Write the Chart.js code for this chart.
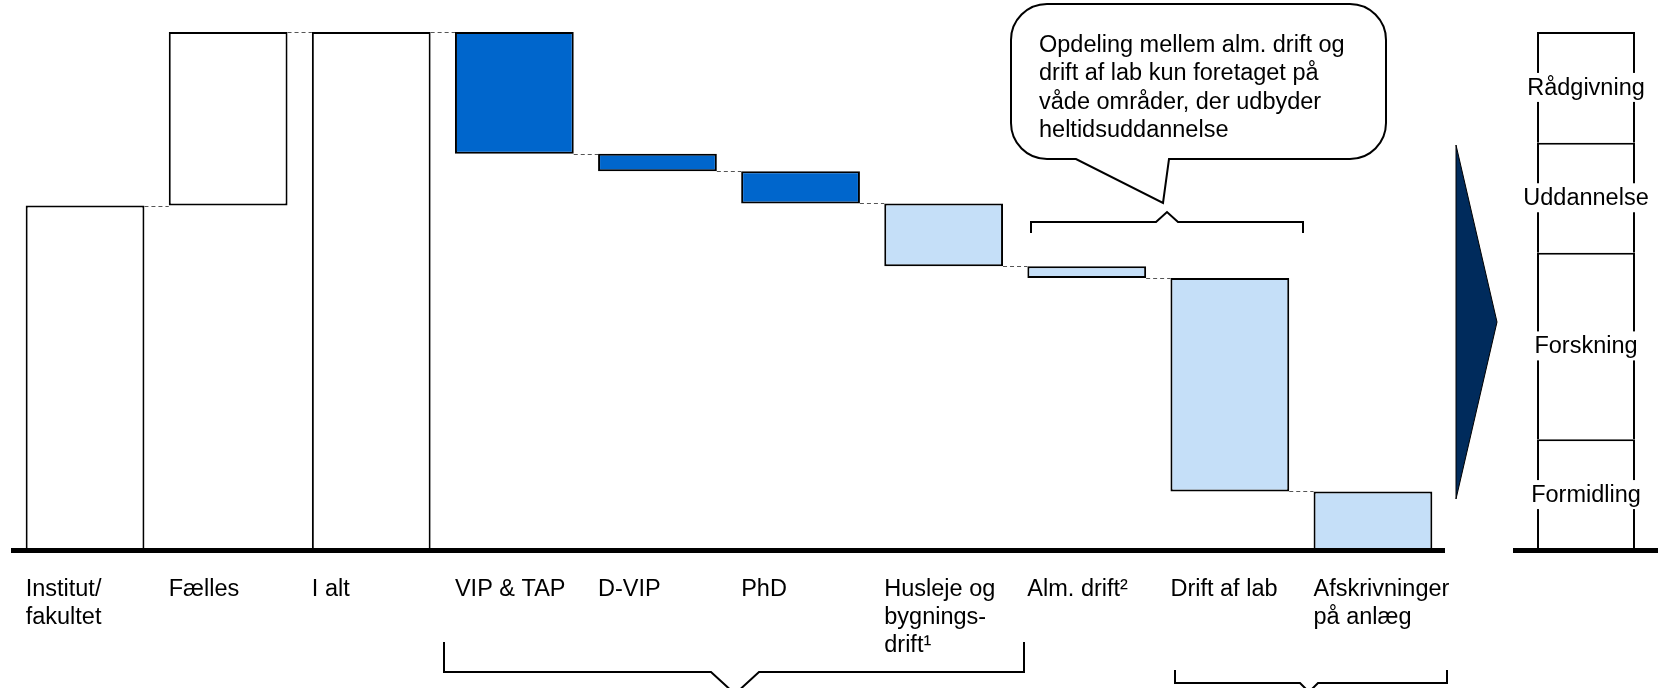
<!DOCTYPE html>
<html lang="da">
<head>
<meta charset="utf-8">
<title>Omkostningsfordeling</title>
<script src="https://cdn.jsdelivr.net/npm/chart.js@4.4.1/dist/chart.umd.min.js"></script>
<style>
  html, body { margin: 0; padding: 0; background: #fff; }
  #wrap { position: relative; width: 1659px; height: 688px; overflow: hidden; }
  #main { position: absolute; left: 0; top: 0; }
  #split { position: absolute; left: 1500px; top: 0; }
</style>
</head>
<body>
<div id="wrap">
  <canvas id="main" width="1500" height="688"></canvas>
  <canvas id="split" width="159" height="688"></canvas>
</div>
<script>
// Data (share of total, I alt = 100)
const categories = [
    ['Institut/', 'fakultet'], 'Fælles', 'I alt', 'VIP & TAP', 'D-VIP', 'PhD',
    ['Husleje og', 'bygnings-', 'drift¹'], 'Alm. drift²', 'Drift af lab', ['Afskrivninger', 'på anlæg']
];
const steps = [66.5, 33.5, 100, -23.5, -3.4, -6.2, -12.1, -2.3, -41.2, -11.3];
const isTotal = [false, false, true, false, false, false, false, false, false, false];
const groups = ['sum', 'sum', 'sum', 'staff', 'staff', 'staff', 'other', 'other', 'other', 'other'];

const splitLabels = ['Formidling', 'Forskning', 'Uddannelse', 'Rådgivning'];
const splitValues = [21.4, 36.0, 21.2, 21.4];

const noteLines = [
    'Opdeling mellem alm. drift og',
    'drift af lab kun foretaget på',
    'våde områder, der udbyder',
    'heltidsuddannelse'
];

const groupColors = { sum: '#ffffff', staff: '#0066cc', other: '#c5dff8' };
const FONT = '"Liberation Sans", Arial, sans-serif';
const FONT_SIZE = 23.5;

Chart.defaults.font.family = FONT;
Chart.defaults.font.size = FONT_SIZE;
Chart.defaults.color = '#000';

// floating ranges for the waterfall
let running = 0;
const ranges = [];
const levels = [];
steps.forEach((v, i) => {
    if (isTotal[i]) {
        ranges.push([0, v]);
        running = v;
    } else {
        ranges.push([running, running + v]);
        running += v;
    }
    levels.push(running);
});

// dashed links between neighbouring bars
const connectors = {
    id: 'connectors',
    afterDatasetsDraw(chart) {
        const { ctx, scales: { y } } = chart;
        const bars = chart.getDatasetMeta(0).data;
        ctx.save();
        ctx.strokeStyle = '#555';
        ctx.lineWidth = 1;
        ctx.setLineDash([4, 3]);
        for (let i = 0; i < bars.length - 1; i++) {
            const py = Math.round(y.getPixelForValue(levels[i])) + 0.5;
            ctx.beginPath();
            ctx.moveTo(bars[i].x + bars[i].width / 2, py);
            ctx.lineTo(bars[i + 1].x - bars[i + 1].width / 2, py);
            ctx.stroke();
        }
        ctx.restore();
    }
};

function brace(ctx, x1, x2, y, tickTo, mid, half, tipY) {
    ctx.beginPath();
    ctx.moveTo(x1, tickTo);
    ctx.lineTo(x1, y);
    ctx.lineTo(mid - half, y);
    ctx.lineTo(mid, tipY);
    ctx.lineTo(mid + half, y);
    ctx.lineTo(x2, y);
    ctx.lineTo(x2, tickTo);
    ctx.stroke();
}

// callout, braces and arrow
const notes = {
    id: 'notes',
    afterDraw(chart) {
        const ctx = chart.ctx;
        ctx.save();
        ctx.lineWidth = 2;
        ctx.strokeStyle = '#000';

        // speech bubble
        const l = 1011, t = 4, r = 1386, b = 159, rad = 36;
        ctx.beginPath();
        ctx.moveTo(l + rad, t);
        ctx.lineTo(r - rad, t);
        ctx.arcTo(r, t, r, t + rad, rad);
        ctx.lineTo(r, b - rad);
        ctx.arcTo(r, b, r - rad, b, rad);
        ctx.lineTo(1169, b);
        ctx.lineTo(1163, 203);
        ctx.lineTo(1076, b);
        ctx.lineTo(l + rad, b);
        ctx.arcTo(l, b, l, b - rad, rad);
        ctx.lineTo(l, t + rad);
        ctx.arcTo(l, t, l + rad, t, rad);
        ctx.closePath();
        ctx.fillStyle = '#fff';
        ctx.fill();
        ctx.stroke();

        ctx.fillStyle = '#000';
        ctx.font = FONT_SIZE + 'px ' + FONT;
        ctx.textAlign = 'left';
        ctx.textBaseline = 'alphabetic';
        noteLines.forEach((line, i) => ctx.fillText(line, 1039, 52 + i * 28.3));

        // braces
        brace(ctx, 1031, 1303, 222, 233, 1167, 11, 212);
        brace(ctx, 444, 1024, 672, 642, 735, 24, 694);
        brace(ctx, 1175, 1447, 683, 670, 1309, 9, 692);

        // arrow towards the split column
        ctx.lineWidth = 1;
        ctx.beginPath();
        ctx.moveTo(1456, 145);
        ctx.lineTo(1497, 322);
        ctx.lineTo(1456, 499);
        ctx.closePath();
        ctx.fillStyle = '#002b5c';
        ctx.fill();
        ctx.stroke();
        ctx.restore();
    }
};

new Chart(document.getElementById('main'), {
    type: 'bar',
    data: {
        labels: categories,
        datasets: [{
            data: ranges,
            backgroundColor: groups.map(g => groupColors[g]),
            borderColor: '#000',
            borderWidth: 2,
            borderSkipped: false,
            categoryPercentage: 1,
            barPercentage: 0.83
        }]
    },
    options: {
        responsive: false,
        animation: false,
        layout: { padding: { left: 13.5, right: 55.5, top: 32, bottom: 0 } },
        plugins: { legend: { display: false }, tooltip: { enabled: false } },
        scales: {
            x: {
                offset: true,
                grid: { display: false, drawTicks: false },
                border: { display: true, color: '#000', width: 5, z: 1 },
                ticks: {
                    align: 'start',
                    labelOffset: -59.4,
                    padding: 25,
                    maxRotation: 0,
                    minRotation: 0,
                    autoSkip: false,
                    color: '#000'
                },
                afterFit: s => { s.height = 138; s.paddingLeft = 0; s.paddingRight = 0; }
            },
            y: { display: false, min: 0, max: 100 }
        }
    },
    plugins: [connectors, notes]
});

// labels sitting on the split column
const splitNames = {
    id: 'splitNames',
    afterDatasetsDraw(chart) {
        const ctx = chart.ctx;
        ctx.save();
        ctx.font = FONT_SIZE + 'px ' + FONT;
        ctx.textAlign = 'center';
        ctx.textBaseline = 'middle';
        chart.data.datasets.forEach((ds, i) => {
            const bar = chart.getDatasetMeta(i).data[0];
            const cy = (bar.y + bar.base) / 2;
            const w = ctx.measureText(ds.label).width + 2;
            ctx.fillStyle = '#fff';
            ctx.fillRect(bar.x - w / 2, cy - 14.5, w, 29);
            ctx.fillStyle = '#000';
            ctx.fillText(ds.label, bar.x, cy + 1);
        });
        ctx.restore();
    }
};

new Chart(document.getElementById('split'), {
    type: 'bar',
    data: {
        labels: [''],
        datasets: splitLabels.map((name, i) => ({
            label: name,
            data: [splitValues[i]],
            backgroundColor: '#fff',
            borderColor: '#000',
            borderWidth: { top: 2, left: 2, right: 2, bottom: 0 },
            borderSkipped: false,
            categoryPercentage: 1,
            barPercentage: 0.69
        }))
    },
    options: {
        responsive: false,
        animation: false,
        layout: { padding: { left: 15, right: 2, top: 32, bottom: 0 } },
        plugins: { legend: { display: false }, tooltip: { enabled: false } },
        scales: {
            x: {
                stacked: true,
                offset: true,
                grid: { display: false, drawTicks: false },
                border: { display: true, color: '#000', width: 5, z: 1 },
                ticks: { display: false },
                afterFit: s => { s.height = 138; s.paddingLeft = 0; s.paddingRight = 0; }
            },
            y: { display: false, stacked: true, min: 0, max: 100 }
        }
    },
    plugins: [splitNames]
});
</script>
</body>
</html>
